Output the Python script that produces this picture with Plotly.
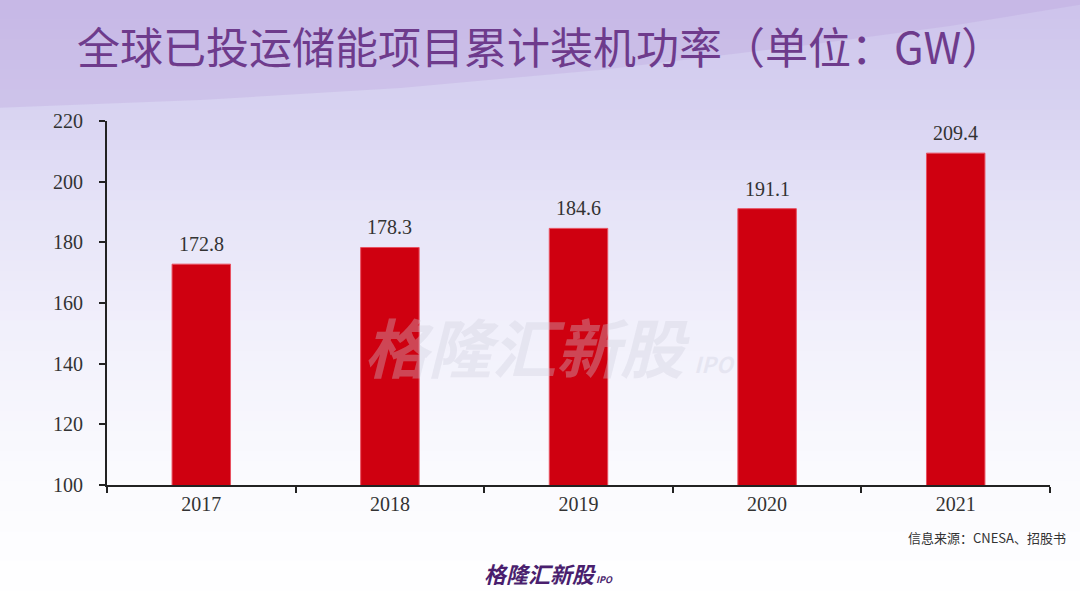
import plotly.graph_objects as go

years = ["2017", "2018", "2019", "2020", "2021"]
capacity_gw = [172.8, 178.3, 184.6, 191.1, 209.4]
y_ticks = [100, 120, 140, 160, 180, 200, 220]

W, H = 1080, 602
ML, MR, MT, MB = 107, 30, 121, 117
PW, PH = W - ML - MR, H - MT - MB


def px_x(v):
    return (v - ML) / PW


def px_y(v):
    return 1 - (v - MT) / PH


fig = go.Figure()
fig.add_trace(go.Bar(
    x=years, y=capacity_gw,
    marker=dict(color="#cf0010", line=dict(color="#e85060", width=1)),
    width=0.31,
    hoverinfo="x+y",
))

shapes = []
# vertical background gradient (lavender -> white)
stops = [(0, (204, 194, 235)), (110, (216, 211, 241)), (200, (229, 226, 247)),
         (330, (241, 240, 251)), (470, (250, 250, 254)), (602, (255, 255, 255))]
N = 60
for i in range(N):
    y0 = H * i / N
    y1 = H * (i + 1) / N
    ym = (y0 + y1) / 2
    for (a, ca), (b, cb) in zip(stops[:-1], stops[1:]):
        if a <= ym <= b:
            t = (ym - a) / (b - a)
            c = tuple(round(ca[k] + (cb[k] - ca[k]) * t) for k in range(3))
            break
    shapes.append(dict(type="rect", xref="paper", yref="paper",
                       x0=px_x(-5), x1=px_x(W + 5), y0=px_y(y1 + 0.5), y1=px_y(y0 - 0.5),
                       fillcolor=f"rgb{c}", line=dict(width=0), layer="below"))
# darker purple swoosh above the diagonal curve at the top
path_pts = [(-5, 108), (200, 100), (400, 88), (600, 70), (800, 46), (950, 26), (1085, 4), (1085, -5), (-5, -5)]
path = "M " + " L ".join(f"{px_x(x):.4f},{px_y(y):.4f}" for x, y in path_pts) + " Z"
shapes.append(dict(type="path", xref="paper", yref="paper", path=path,
                   fillcolor="rgba(180,155,215,0.26)", line=dict(width=0), layer="below"))

annotations = [
    dict(text=f"{v:.1f}", x=i, y=v, xref="x", yref="y", yshift=20, yanchor="middle",
         showarrow=False, font=dict(family="Liberation Serif", size=20, color="#333333"))
    for i, v in enumerate(capacity_gw)
]
annotations += [
    dict(text="全球已投运储能项目累计装机功率（单位：GW）", xref="paper", yref="paper",
         x=px_x(540), y=px_y(45), xanchor="center", yanchor="middle", showarrow=False,
         font=dict(family="Noto Sans CJK SC", size=43, color="#6e3b8c")),
    dict(text="信息来源：CNESA、招股书", xref="paper", yref="paper",
         x=px_x(1068), y=px_y(537), xanchor="right", yanchor="middle", showarrow=False,
         font=dict(family="Noto Sans CJK SC", size=13, color="#333333")),
    dict(text="<b><i>格隆汇新股</i></b><span style='font-size:9px'><b><i> IPO</i></b></span>",
         xref="paper", yref="paper",
         x=px_x(548), y=px_y(573), xanchor="center", yanchor="middle", showarrow=False,
         font=dict(family="Noto Sans CJK SC", size=22, color="#4a1f6e")),
    dict(text="<b><i>格隆汇新股</i></b><span style='font-size:22px'><b><i>  IPO</i></b></span>",
         xref="paper", yref="paper",
         x=px_x(550), y=px_y(345), xanchor="center", yanchor="middle", showarrow=False,
         font=dict(family="Noto Sans CJK SC", size=64, color="rgba(205,205,220,0.34)")),
]

fig.update_layout(
    width=W, height=H,
    margin=dict(l=ML, r=MR, t=MT, b=MB),
    paper_bgcolor="white",
    plot_bgcolor="rgba(0,0,0,0)",
    showlegend=False,
    shapes=shapes,
    annotations=annotations,
    xaxis=dict(
        type="category",
        range=[-0.5, 4.5],
        showline=True, linecolor="#222222", linewidth=2,
        ticks="outside", tickson="boundaries", ticklen=6, tickwidth=2, tickcolor="#222222",
        showgrid=False, zeroline=False,
        tickfont=dict(family="Liberation Serif", size=20, color="#333333"),
    ),
    yaxis=dict(
        range=[100, 220], tickvals=y_ticks,
        showline=True, linecolor="#222222", linewidth=2,
        ticks="outside", ticklen=6, tickwidth=2, tickcolor="#222222",
        ticklabelstandoff=12,
        showgrid=False, zeroline=False,
        tickfont=dict(family="Liberation Serif", size=20, color="#333333"),
    ),
)

fig.write_html("out.html", config={"displayModeBar": False},
               post_script="document.body.style.margin='0';document.body.style.overflow='hidden';")
